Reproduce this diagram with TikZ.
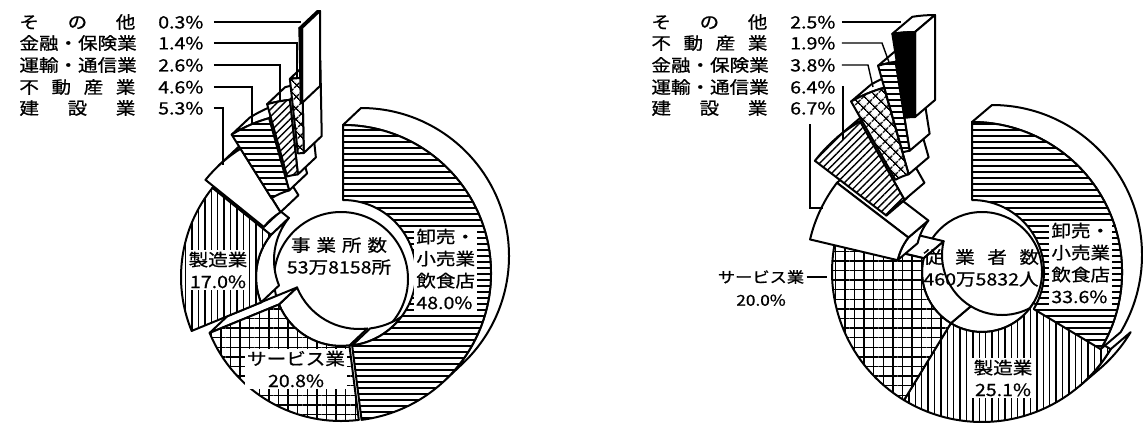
\documentclass[tikz,border=0pt]{standalone}
\usepackage{fontspec}
\usepackage{tikz}
\usetikzlibrary{patterns.meta}
\newfontfamily\jp{Noto Sans CJK JP}[FakeStretch=1.15,FakeBold=0.8]

\newcommand{\depx}{18}
\newcommand{\depy}{17}
\newcommand{\ringface}[7]{%
    \path[#7,shift={(#1,-#2)}] (#3:#5) -- (#3:#6) arc[start angle=#3,end angle=#4,radius=#6]
        -- (#4:#5) arc[start angle=#4,end angle=#3,radius=#5] -- cycle;}
\newcommand{\ringwall}[5]{%
    \path[wall,shift={(#1,-#2)}] (#3:#5) arc[start angle=#3,end angle=#4,radius=#5]
        -- ++(\depx,\depy) arc[start angle=#4,end angle=#3,radius=#5] -- cycle;}
\newcommand{\ringcut}[5]{%
    \path[wall,shift={(#1,-#2)}] (#3:#4) -- (#3:#5) -- ++(\depx,\depy)
        -- ([shift={(\depx,\depy)}]#3:#4) -- cycle;}

\tikzset{
    edge/.style={draw, line width=1pt, line join=round},
    wall/.style={edge, fill=white},
    face/.style={edge, preaction={fill=white}},
    hlines/.style={face, pattern={Lines[angle=0,distance=3pt,line width=0.7pt]}},
    vlines/.style={face, pattern={Lines[angle=90,distance=3.2pt,line width=0.7pt]}},
    slines/.style={face, pattern={Lines[angle=45,distance=2.6pt,line width=0.7pt]}},
    gridfill/.style={face, pattern={Hatch[angle=0,distance=4.8pt,line width=0.7pt]}},
    xfill/.style={face, pattern={Hatch[angle=45,distance=4pt,line width=0.7pt]}},
    blk/.style={edge, fill=black},
    lbl/.style={font=\jp\fontsize{8.5pt}{11pt}\selectfont, inner sep=1pt},
    lead/.style={draw, line width=0.7pt},
}

\begin{document}
\begin{tikzpicture}[x=0.5pt,y=0.5pt]

    \fill[white] (0,0) rectangle (1143,-424);
    \useasboundingbox (0,0) rectangle (1143,-424);

    % left chart
    \draw[edge] (341,-279) circle[radius=67];
    \ringwall{341}{279}{-157.68}{-82.8}{67}
    \ringcut{341}{279}{-157.68}{67}{142}
    \ringface{341}{279}{-157.68}{-82.8}{67}{142}{gridfill}
    \ringwall{343}{273}{-46.6}{90}{148}
    \ringwall{343}{273}{-82.8}{-46.6}{73}
    \ringface{343}{273}{-82.8}{90}{73}{148}{hlines}
    \ringwall{323}{277}{141.12}{202.32}{67}
    \ringcut{323}{277}{141.12}{67}{142}
    \ringface{323}{277}{141.12}{202.32}{67}{142}{vlines}
    \ringwall{316}{269}{122.04}{133.4}{142}
    \ringwall{316}{269}{133.4}{141.12}{67}
    \ringcut{316}{269}{122.04}{67}{142}
    \ringface{316}{269}{122.04}{141.12}{67}{142}{face}
    \ringwall{307}{255}{105.48}{122.04}{142}
    \ringcut{307}{255}{105.48}{67}{142}
    \ringface{307}{255}{105.48}{122.04}{67}{142}{hlines}
    \ringwall{305}{241}{96.12}{105.48}{142}
    \ringcut{305}{241}{96.12}{67}{142}
    \ringface{305}{241}{96.12}{105.48}{67}{142}{slines}
    \ringwall{305}{220}{91.08}{96.12}{142}
    \ringcut{305}{220}{91.08}{67}{142}
    \ringface{305}{220}{91.08}{96.12}{67}{142}{xfill}
    \ringwall{302}{170}{90}{91.08}{142}
    \ringcut{302}{170}{90}{67}{142}
    \ringface{302}{170}{90}{91.08}{67}{142}{blk}

    \node[lbl, align=center] (lcen) at (339,-256) {\makebox[48pt][s]{事\hfill 業\hfill 所\hfill 数}\\53万8158所};
    \node[lbl, fill=white, anchor=west, align=left] (lws) at (414,-269) {卸売・\\小売業\\飲食店\\48.0\%};
    \node[lbl, fill=white, align=center] (lmf) at (218,-270) {製造業\\17.0\%};
    \node[lbl, fill=white, align=center] (lsv) at (296,-369) {サービス業\\20.8\%};

    \node[lbl, anchor=west] (lot) at (17,-22) {\makebox[58pt][s]{そ\hfill の\hfill 他}\hspace{8pt}\makebox[26pt][r]{0.3\%}};
    \node[lbl, anchor=west] (lfi) at (17,-43) {\makebox[58pt][s]{金融・保険業}\hspace{8pt}\makebox[26pt][r]{1.4\%}};
    \node[lbl, anchor=west] (ltr) at (17,-65) {\makebox[58pt][s]{運輸・通信業}\hspace{8pt}\makebox[26pt][r]{2.6\%}};
    \node[lbl, anchor=west] (lre) at (17,-87) {\makebox[58pt][s]{不\hfill 動\hfill 産\hfill 業}\hspace{8pt}\makebox[26pt][r]{4.6\%}};
    \node[lbl, anchor=west] (lco) at (17,-108) {\makebox[58pt][s]{建\hfill 設\hfill 業}\hspace{8pt}\makebox[26pt][r]{5.3\%}};

    \coordinate (lotp) at (301,-22);
    \coordinate (lfip) at (297,-78);
    \coordinate (ltrp) at (280,-101);
    \coordinate (lrep) at (252,-124);
    \coordinate (lcop) at (223,-165);
    \draw[lead] ([xshift=4pt]lot.east) -- (lotp);
    \draw[lead] ([xshift=4pt]lfi.east) -| (lfip);
    \draw[lead] ([xshift=4pt]ltr.east) -| (ltrp);
    \draw[lead] ([xshift=4pt]lre.east) -| (lrep);
    \draw[lead] ([xshift=4pt]lco.east) -| (lcop);

    % right chart
    \renewcommand{\depx}{20}
    \draw[edge] (982,-272) circle[radius=60];
    \ringwall{982}{272}{-49.6}{-30.96}{150}
    \ringwall{982}{272}{-121.32}{-49.6}{60}
    \ringface{982}{272}{-121.32}{-30.96}{60}{150}{vlines}
    \ringwall{982}{272}{166.68}{238.68}{60}
    \ringcut{982}{272}{166.68}{60}{150}
    \ringface{982}{272}{166.68}{238.68}{60}{150}{gridfill}
    \ringwall{972}{272}{-30.96}{90}{150}
    \ringface{972}{272}{-30.96}{90}{72}{150}{hlines}
    \ringwall{956}{274}{142.56}{166.68}{60}
    \ringcut{956}{274}{142.56}{60}{150}
    \ringface{956}{274}{142.56}{166.68}{60}{150}{face}
    \ringwall{934}{252}{119.52}{130.4}{150}
    \ringwall{934}{252}{130.4}{142.56}{60}
    \ringcut{934}{252}{119.52}{60}{150}
    \ringface{934}{252}{119.52}{142.56}{60}{150}{slines}
    \ringwall{925}{232}{105.84}{119.52}{150}
    \ringcut{925}{232}{105.84}{60}{150}
    \ringface{925}{232}{105.84}{119.52}{60}{150}{xfill}
    \ringwall{919}{210}{99}{105.84}{150}
    \ringcut{919}{210}{99}{60}{150}
    \ringface{919}{210}{99}{105.84}{60}{150}{hlines}
    \ringwall{915}{177}{90}{99}{145}
    \ringcut{915}{177}{90}{60}{145}
    \ringface{915}{177}{90}{99}{60}{145}{blk}

    \node[lbl, align=center] (rcen) at (981,-268) {\makebox[58pt][s]{従\hfill 業\hfill 者\hfill 数}\\460万5832人};
    \node[lbl, fill=white, anchor=west, align=left] (rws) at (1049,-263) {卸売・\\小売業\\飲食店\\33.6\%};
    \node[lbl, fill=white, align=center] (rmf) at (1003,-378) {製造業\\25.1\%};
    \node[lbl, font=\jp\fontsize{7.5pt}{11.5pt}\selectfont, align=center] (rsv) at (761,-288) {サービス業\\20.0\%};

    \node[lbl, anchor=west] (rot) at (649,-22) {\makebox[58pt][s]{そ\hfill の\hfill 他}\hspace{8pt}\makebox[26pt][r]{2.5\%}};
    \node[lbl, anchor=west] (rre) at (649,-43) {\makebox[58pt][s]{不\hfill 動\hfill 産\hfill 業}\hspace{8pt}\makebox[26pt][r]{1.9\%}};
    \node[lbl, anchor=west] (rfi) at (649,-65) {\makebox[58pt][s]{金融・保険業}\hspace{8pt}\makebox[26pt][r]{3.8\%}};
    \node[lbl, anchor=west] (rtr) at (649,-87) {\makebox[58pt][s]{運輸・通信業}\hspace{8pt}\makebox[26pt][r]{6.4\%}};
    \node[lbl, anchor=west] (rco) at (649,-108) {\makebox[58pt][s]{建\hfill 設\hfill 業}\hspace{8pt}\makebox[26pt][r]{6.7\%}};

    \coordinate (rotp) at (901,-22);
    \coordinate (rrek) at (882,-43);
    \coordinate (rrep) at (890,-65);
    \coordinate (rfik) at (868,-65);
    \coordinate (rfip) at (873,-87);
    \coordinate (rtrp) at (843,-140);
    \coordinate (rcok) at (810,-208);
    \coordinate (rcop) at (823,-208);
    \coordinate (rsvp) at (827,-277);
    \draw[lead] ([xshift=2pt]rot.east) -- (rotp);
    \draw[lead] ([xshift=2pt]rre.east) -- (rrek) -- (rrep);
    \draw[lead] ([xshift=2pt]rfi.east) -- (rfik) -- (rfip);
    \draw[lead] ([xshift=2pt]rtr.east) -| (rtrp);
    \draw[lead] ([yshift=-3pt]rco.south -| rcok) -- (rcok) -- (rcop);
    \draw[lead] (rsv.east |- rsvp) -- (rsvp);

\end{tikzpicture}
\end{document}
